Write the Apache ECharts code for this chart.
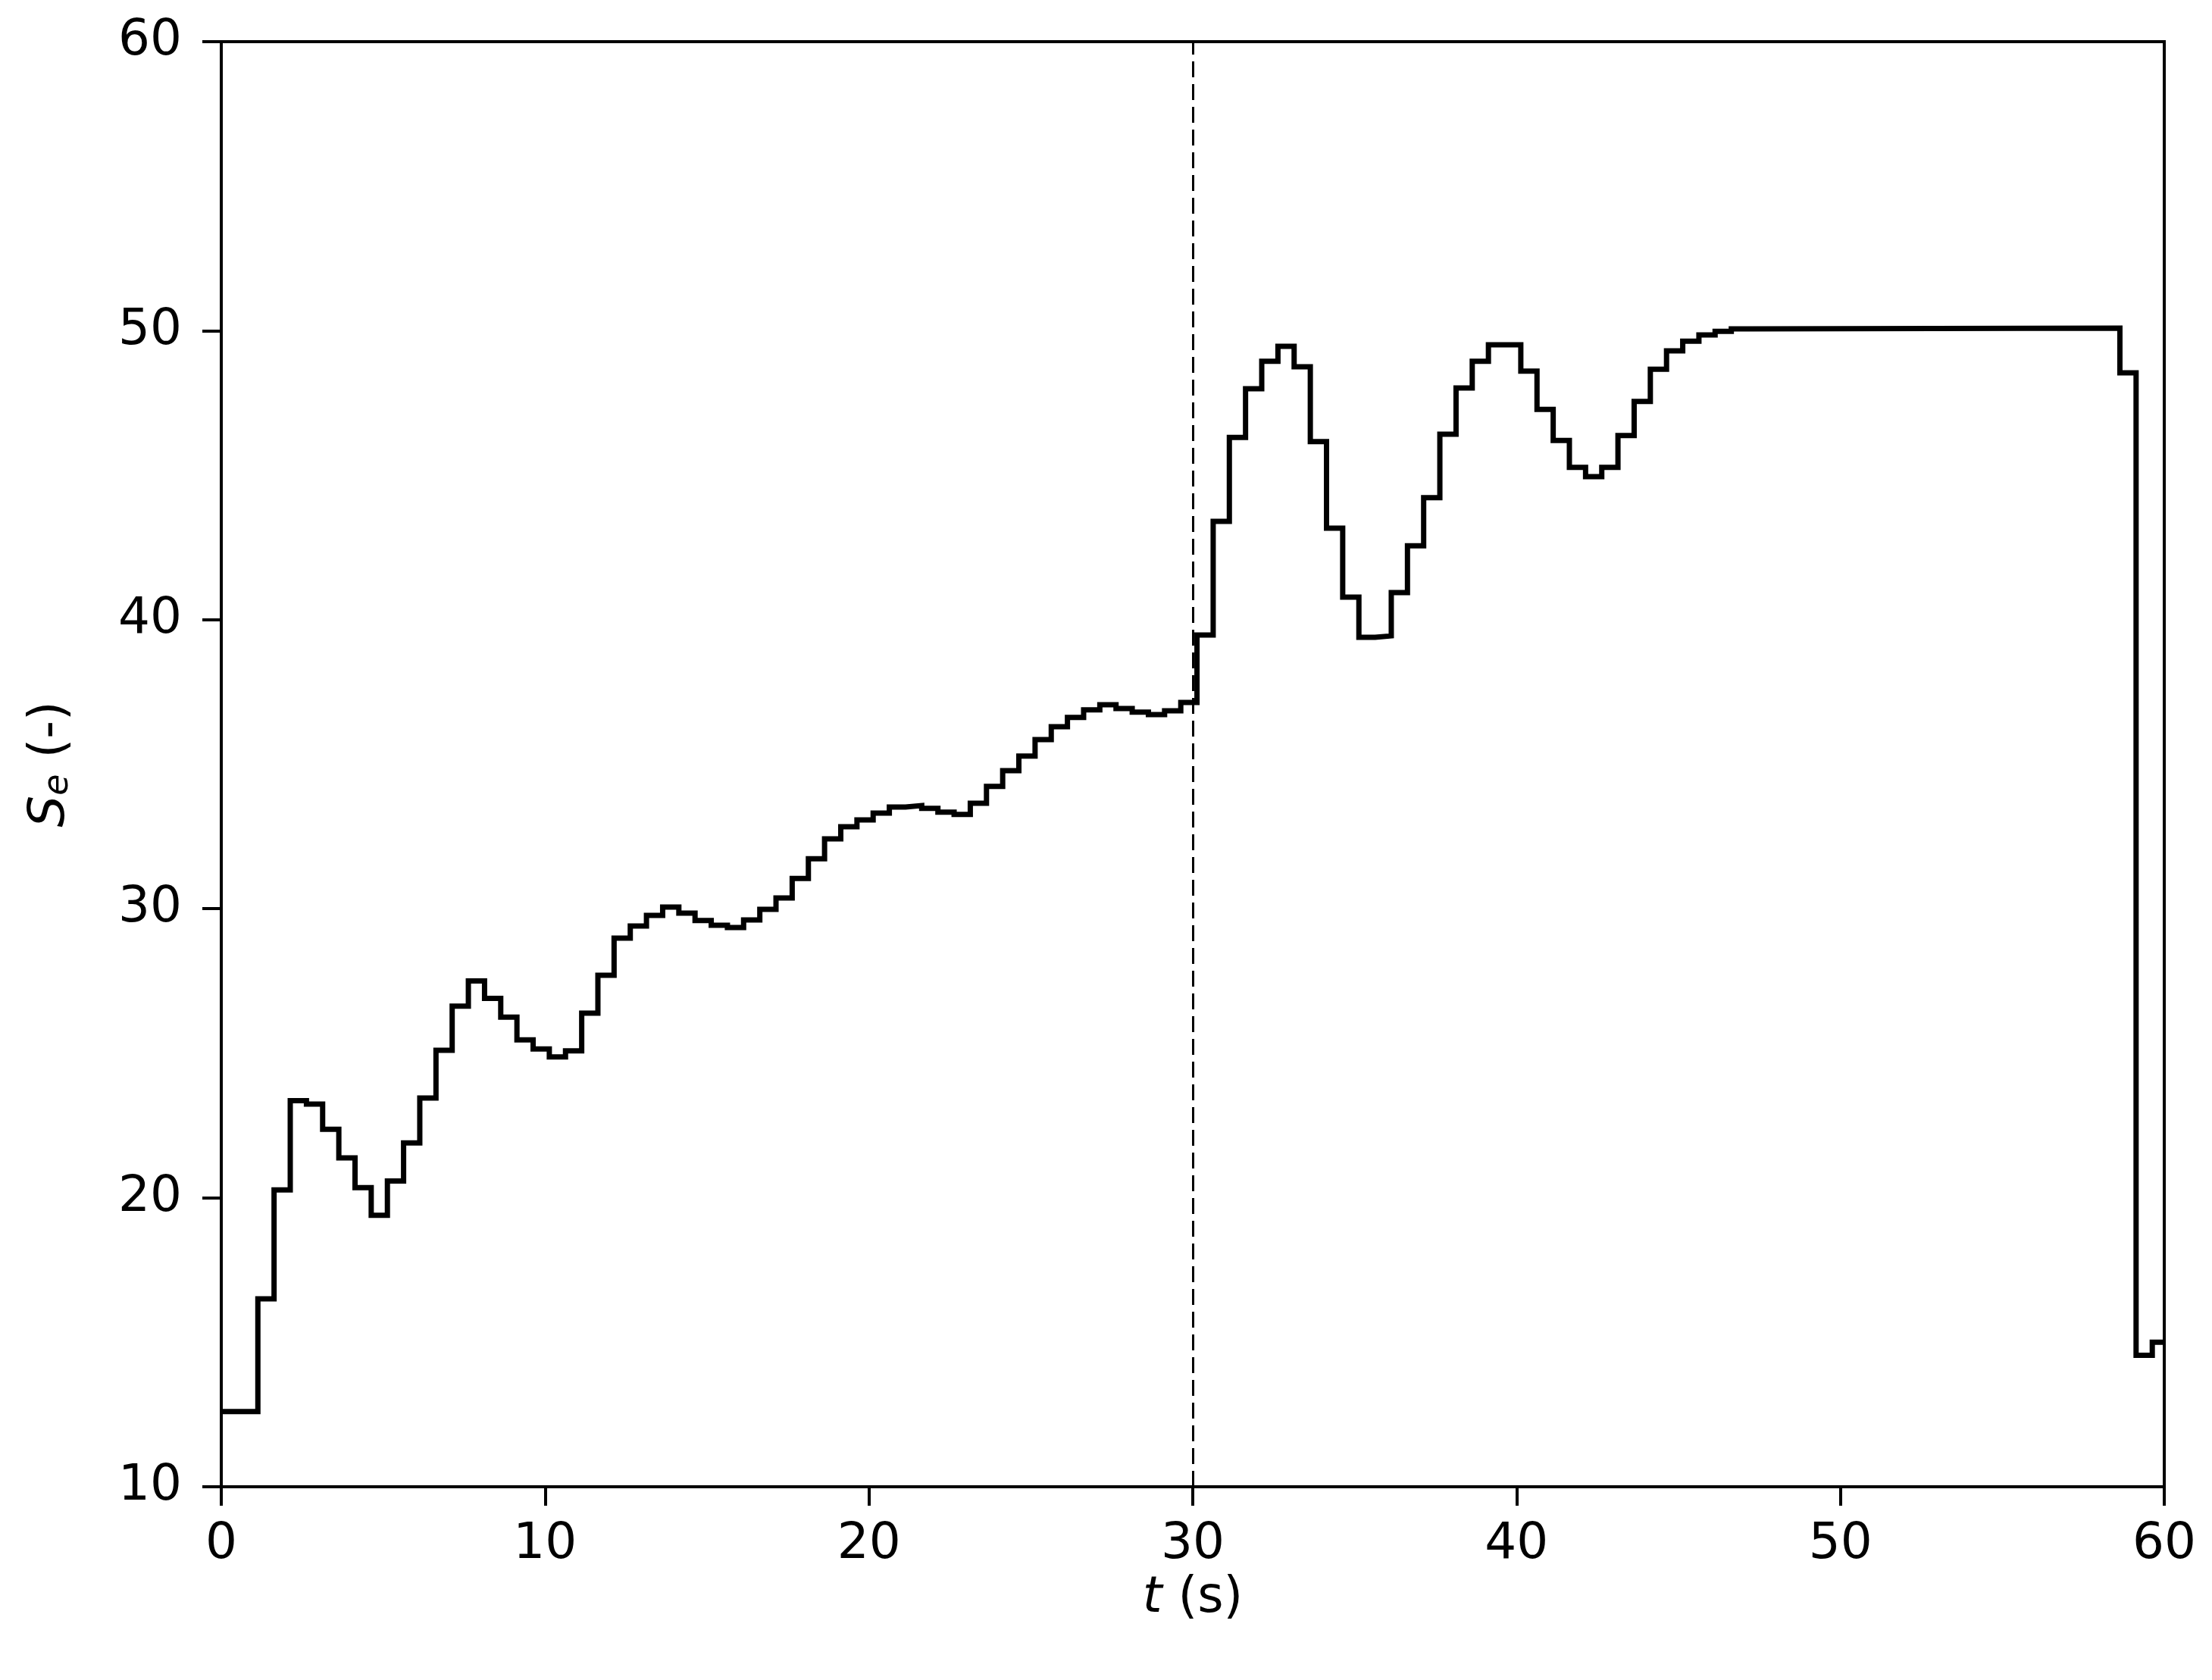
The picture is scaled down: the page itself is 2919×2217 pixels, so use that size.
<!DOCTYPE html>
<html>
<head>
<meta charset="utf-8">
<script src="https://cdn.jsdelivr.net/npm/echarts@6/dist/echarts.min.js"></script>
<style>
html,body{margin:0;padding:0;background:#fff;}
#chart{width:2919px;height:2217px;}
</style>
</head>
<body>
<div id="chart"></div>
<script>
// step edge times (s) and S_e value held from that time
const stepTimes = [0, 1.13, 1.63, 2.13, 2.63, 3.13, 3.63, 4.13, 4.63, 5.13, 5.63, 6.13, 6.63, 7.13, 7.63, 8.13, 8.63, 9.13, 9.63, 10.13,
  10.63, 11.13, 11.63, 12.13, 12.63, 13.13, 13.63, 14.13, 14.63, 15.13, 15.63, 16.13, 16.63, 17.13, 17.63, 18.13, 18.63, 19.13, 19.63, 20.13,
  20.63, 21.13, 21.63, 22.13, 22.63, 23.13, 23.63, 24.13, 24.63, 25.13, 25.63, 26.13, 26.63, 27.13, 27.63, 28.13, 28.63, 29.13, 29.63, 30.13,
  30.63, 31.13, 31.63, 32.13, 32.63, 33.13, 33.63, 34.13, 34.63, 35.13, 35.63, 36.13, 36.63, 37.13, 37.63, 38.13, 38.63, 39.13, 39.63, 40.13,
  40.63, 41.13, 41.63, 42.13, 42.63, 43.13, 43.63, 44.13, 44.63, 45.13, 45.63, 46.13, 46.63, 47.13, 58.63, 59.13, 59.63, 60];
const seValues = [12.60, 16.50, 20.27, 23.36, 23.24, 22.37, 21.38, 20.35, 19.39, 20.58, 21.90, 23.45, 25.10, 26.63, 27.50, 26.90, 26.25, 25.46, 25.15, 24.87,
  25.08, 26.39, 27.70, 28.98, 29.40, 29.77, 30.06, 29.85, 29.59, 29.43, 29.35, 29.61, 29.98, 30.37, 31.05, 31.73, 32.42, 32.84, 33.07, 33.31,
  33.52, 33.57, 33.47, 33.34, 33.26, 33.65, 34.23, 34.78, 35.28, 35.85, 36.30, 36.62, 36.88, 37.06, 36.93, 36.80, 36.72, 36.85, 37.14, 39.47,
  43.40, 46.31, 47.99, 48.94, 49.46, 48.75, 46.16, 43.17, 40.78, 39.39, 39.44, 40.94, 42.56, 44.22, 46.42, 48.02, 48.94, 49.51, 49.51, 48.60,
  47.28, 46.20, 45.27, 44.95, 45.27, 46.37, 47.55, 48.67, 49.30, 49.64, 49.85, 49.98, 50.06, 50.09, 48.54, 14.55, 15.00, 15.00];
const xTicks = [0, 10, 20, 30, 40, 50, 60];
const yTicks = [10, 20, 30, 40, 50, 60];
const switchTime = 30;

const seriesData = stepTimes.map((t, i) => [t, seValues[i]]);
const FONT = 'DejaVu Sans';

const chart = echarts.init(document.getElementById('chart'), null, {renderer: 'canvas'});
chart.setOption({
  backgroundColor: '#ffffff',
  animation: false,
  grid: {left: 292, right: 63, top: 55, bottom: 255, show: true, borderColor: '#000', borderWidth: 4, backgroundColor: 'transparent'},
  xAxis: {
    type: 'value', min: xTicks[0], max: xTicks[xTicks.length - 1], interval: 10,
    axisLine: {show: true, onZero: false, lineStyle: {color: '#000', width: 4}},
    axisTick: {show: true, inside: false, length: 25, lineStyle: {color: '#000', width: 4}},
    axisLabel: {color: '#000', fontFamily: FONT, fontSize: 66, margin: 44},
    splitLine: {show: false},
    name: '{i|t} (s)',
    nameLocation: 'middle', nameGap: 112,
    nameTextStyle: {color: '#000', fontFamily: FONT, fontSize: 66,
      rich: {i: {fontStyle: 'italic', fontFamily: FONT, fontSize: 66, color: '#000'}}}
  },
  yAxis: {
    type: 'value', min: yTicks[0], max: yTicks[yTicks.length - 1], interval: 10,
    axisLine: {show: true, onZero: false, lineStyle: {color: '#000', width: 4}},
    axisTick: {show: true, inside: false, length: 25, lineStyle: {color: '#000', width: 4}},
    axisLabel: {color: '#000', fontFamily: FONT, fontSize: 66, margin: 52},
    splitLine: {show: false},
    name: '{s|S}{e|e}{p| (-)}',
    nameLocation: 'middle', nameGap: 192, nameRotate: 90,
    nameTextStyle: {color: '#000', fontFamily: FONT, fontSize: 66,
      rich: {
        s: {fontStyle: 'italic', fontFamily: FONT, fontSize: 66, lineHeight: 66, verticalAlign: 'top', color: '#000'},
        e: {fontStyle: 'italic', fontFamily: FONT, fontSize: 46, lineHeight: 30, verticalAlign: 'bottom', color: '#000'},
        p: {fontFamily: FONT, fontSize: 66, lineHeight: 66, verticalAlign: 'top', color: '#000'}
      }}
  },
  series: [{
    type: 'line', step: 'end', data: seriesData, showSymbol: false, symbol: 'none',
    lineStyle: {color: '#000', width: 7, join: 'miter'},
    markLine: {
      silent: true, symbol: ['none', 'none'], label: {show: false},
      lineStyle: {color: '#000', width: 3, type: [21, 9]},
      data: [{xAxis: switchTime}]
    }
  }]
});
</script>
</body>
</html>
